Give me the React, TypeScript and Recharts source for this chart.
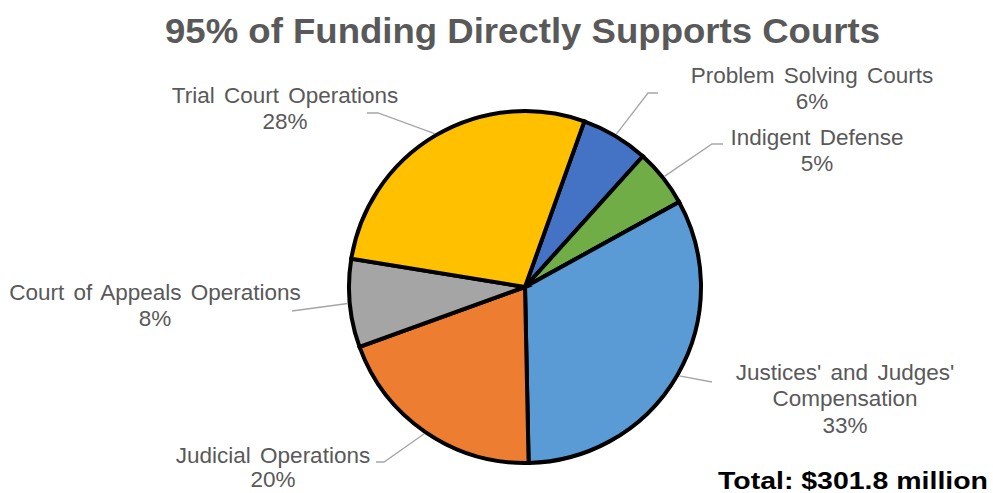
import React from "react";
import { PieChart, Pie, Cell } from "recharts";

const names = [
  "Problem Solving Courts",
  "Indigent Defense",
  "Justices' and Judges' Compensation",
  "Judicial Operations",
  "Court of Appeals Operations",
  "Trial Court Operations",
];
const shares = [6.2, 5.3, 32.7, 19.8, 8.1, 27.9];
const pctLabels = ["6%", "5%", "33%", "20%", "8%", "28%"];
const colors = ["#4472C4", "#70AD47", "#5B9BD5", "#ED7D31", "#A5A5A5", "#FFC000"];

// label layout: text lines, text centre, leader elbow points (chart coords)
const labelLines = [
  ["Problem Solving Courts"],
  ["Indigent Defense"],
  ["Justices' and Judges'", "Compensation"],
  ["Judicial Operations"],
  ["Court of Appeals Operations"],
  ["Trial Court Operations"],
];
const labelCentres = [
  [812, 75],
  [817, 137],
  [845, 372],
  [273, 455],
  [155, 292],
  [285, 95],
];
const lineGap = [26.5, 26.5, 26.5, 24.5, 26.5, 26.5];
const leaderPoints = [
  [[648, 93], [658, 93]],
  [[712, 144], [723, 144]],
  [[712, 382]],
  [[384, 462], [376, 462]],
  [[292, 311]],
  [[378, 113], [367, 113]],
];

const data = names.map((name, i) => ({ name, value: shares[i] }));

const W = 993;
const H = 493;
const FONT = "'Liberation Sans', Arial, sans-serif";
const RAD = Math.PI / 180;

function renderLabel(props: any) {
  const { cx, cy, midAngle, outerRadius, index } = props;
  const sx = cx + (outerRadius + 2) * Math.cos(-midAngle * RAD);
  const sy = cy + (outerRadius + 2) * Math.sin(-midAngle * RAD);
  const pts = [[sx, sy], ...leaderPoints[index]].map((p) => p.join(",")).join(" ");
  const lines = [...labelLines[index], pctLabels[index]];
  const [tx, ty] = labelCentres[index];
  return (
    <g key={`lbl-${index}`}>
      <polyline points={pts} fill="none" stroke="#A6A6A6" strokeWidth={1.3} />
      {lines.map((t, k) => (
        <text
          key={k}
          x={tx}
          y={ty + k * lineGap[index]}
          textAnchor="middle"
          dominantBaseline="central"
          fill="#595959"
          fontFamily={FONT}
          fontSize={22.5}
          style={{ wordSpacing: 3 }}
        >
          {t}
        </text>
      ))}
    </g>
  );
}

export default function App() {
  return (
    <div style={{ position: "fixed", top: 0, left: 0, width: W, height: H, background: "#fff" }}>
      <PieChart width={W} height={H} margin={{ top: 0, right: 0, bottom: 0, left: 0 }}>
        <Pie
          data={data}
          dataKey="value"
          nameKey="name"
          cx={525}
          cy={287}
          outerRadius={176}
          startAngle={70.3}
          endAngle={-289.7}
          stroke="#000"
          strokeWidth={4}
          label={renderLabel}
          labelLine={false}
          isAnimationActive={false}
        >
          {data.map((d, i) => (
            <Cell key={d.name} fill={colors[i]} />
          ))}
        </Pie>
      </PieChart>
      <svg width={W} height={H} style={{ position: "absolute", top: 0, left: 0, pointerEvents: "none" }}>
        <text
          x={165}
          y={43}
          fill="#595959"
          fontFamily={FONT}
          fontWeight="bold"
          fontSize={35}
          textLength={715}
          lengthAdjust="spacingAndGlyphs"
        >
          95% of Funding Directly Supports Courts
        </text>
        <text
          x={718}
          y={489}
          fill="#000"
          fontFamily={FONT}
          fontWeight="bold"
          fontSize={23}
          textLength={270}
          lengthAdjust="spacingAndGlyphs"
        >
          Total: $301.8 million
        </text>
      </svg>
    </div>
  );
}
